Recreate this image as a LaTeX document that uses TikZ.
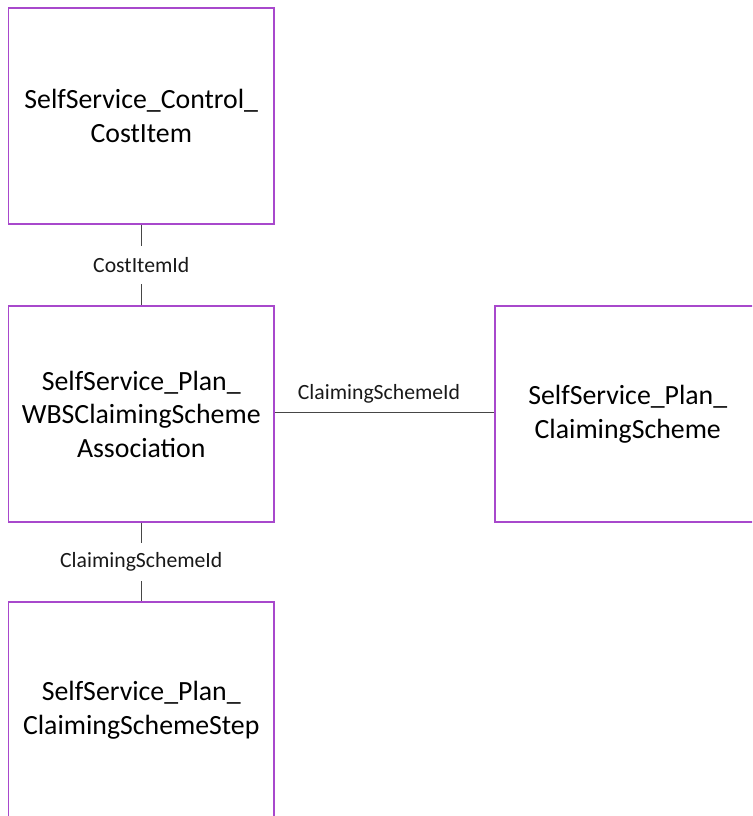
\documentclass[tikz,border=0pt]{standalone}
\usepackage{fontspec}
\setmainfont{Carlito}
\definecolor{boxpurple}{RGB}{168,72,204}
\definecolor{linegray}{RGB}{70,70,70}
\tikzset{
  entity/.style={draw=boxpurple, line width=1.4pt, fill=white, minimum width=265.5pt, minimum height=216pt,
    inner sep=0pt, align=center, font=\fontsize{27.8}{33.5}\selectfont, text=black},
  conn/.style={draw=linegray, line width=1pt},
  rellabel/.style={font=\fontsize{21.7}{26}\selectfont, text=black!90, fill=white, inner sep=0pt, minimum height=38pt}
}
\begin{document}
\begin{tikzpicture}[x=1pt,y=-1pt]
\useasboundingbox (0,0) rectangle (752,816);
\clip (0,0) rectangle (752,816);
\node[entity] (b1) at (141.25,116) {SelfService\_Control\_\\CostItem};
\node[entity] (b2) at (141.25,414) {SelfService\_Plan\_\\WBSClaimingScheme\\Association};
\node[entity] (b3) at (627.75,414) {SelfService\_Plan\_\\ClaimingScheme};
\node[entity] (b4) at (141.25,710) {SelfService\_Plan\_\\ClaimingSchemeStep};
\draw[conn] (b1) -- node[rellabel] {CostItemId} (b2);
\draw[conn] (b2) -- node[rellabel] {ClaimingSchemeId} (b4);
\draw[conn] ([yshift=2pt]b2.east) -- node[pos=0.475, above, font=\fontsize{21.7}{26}\selectfont, text=black!90, inner sep=0pt, yshift=8pt] {ClaimingSchemeId} ([yshift=2pt]b3.west);
\end{tikzpicture}
\end{document}
